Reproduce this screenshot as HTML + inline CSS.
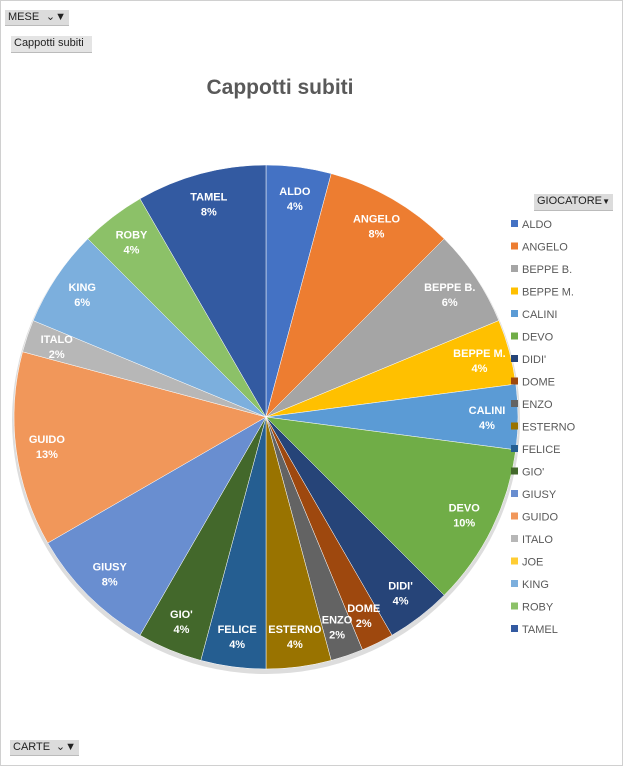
<!DOCTYPE html>
<html><head><meta charset="utf-8"><style>
body{margin:0;width:623px;height:766px;overflow:hidden;background:#fff;font-family:"Liberation Sans",sans-serif}
.btn{position:absolute;background:#dcdcdc;border-bottom:1px solid #bbb;font-size:11px;color:#222;line-height:15px;padding:0 3px}
</style></head><body>
<div style="position:absolute;left:0;top:0;width:621px;height:764px;border:1px solid #d0d0d0"></div>
<div class="btn" style="left:5px;top:10px;width:58px;height:15px">MESE <span style="float:right">⌄▼</span></div>
<div class="btn" style="left:11px;top:36px;width:75px;height:16px;background:#e4e4e4">Cappotti subiti</div>
<div class="btn" style="left:10px;top:740px;width:63px;height:15px">CARTE <span style="float:right">⌄▼</span></div>
<div style="position:absolute;left:0;top:76px;width:560px;text-align:center;font-size:21px;font-weight:bold;color:#595959">Cappotti subiti</div>
<div class="btn" style="left:534px;top:194px;width:73px;height:16px;font-size:11px">GIOCATORE <span style="float:right;font-size:8px">▼</span></div>
<svg id="s" width="623" height="766" style="position:absolute;left:0;top:0"></svg>
<script>
var d=[["ALDO",2,"#4472C4"],["ANGELO",4,"#ED7D31"],["BEPPE B.",3,"#A5A5A5"],["BEPPE M.",2,"#FFC000"],["CALINI",2,"#5B9BD5"],["DEVO",5,"#70AD47"],["DIDI'",2,"#264478"],["DOME",1,"#9E480E"],["ENZO",1,"#636363"],["ESTERNO",2,"#997300"],["FELICE",2,"#255E91"],["GIO'",2,"#43682B"],["GIUSY",4,"#698ED0"],["GUIDO",6,"#F1975A"],["ITALO",1,"#B7B7B7"],["JOE",0,"#FFCD33"],["KING",3,"#7CAFDD"],["ROBY",2,"#8CC168"],["TAMEL",4,"#335AA1"]];
var cx=266,cy=417,R=252,c=0,h='<circle cx="'+cx+'" cy="'+(cy+3)+'" r="'+(R+2)+'" fill="#ddd"/>',t='';
d.forEach(function(e,i){
 var a0=c/48*2*Math.PI,a1=(c+e[1])/48*2*Math.PI,m=(a0+a1)/2;
 if(e[1]>0){
 h+='<path d="M'+cx+','+cy+'L'+(cx+R*Math.sin(a0))+','+(cy-R*Math.cos(a0))+'A'+R+','+R+' 0 0 1 '+(cx+R*Math.sin(a1))+','+(cy-R*Math.cos(a1))+'Z" fill="'+e[2]+'" stroke="#fff" stroke-width="0.5"/>';
 var lx=cx+221*Math.sin(m),ly=cy-221*Math.cos(m);
 t+='<text x="'+lx+'" y="'+(ly-3)+'" text-anchor="middle" font-size="11" font-weight="bold" fill="#fff">'+e[0]+'</text><text x="'+lx+'" y="'+(ly+12)+'" text-anchor="middle" font-size="11" font-weight="bold" fill="#fff">'+Math.round(e[1]/48*100)+'%</text>';}
 c+=e[1];
 var y=224+i*22.5;
 t+='<rect x="511" y="'+(y-4)+'" width="7" height="7" fill="'+e[2]+'"/><text x="522" y="'+(y+4)+'" font-size="11" fill="#595959">'+e[0]+'</text>';
});
document.getElementById('s').innerHTML=h+t;
</script>
</body></html>
